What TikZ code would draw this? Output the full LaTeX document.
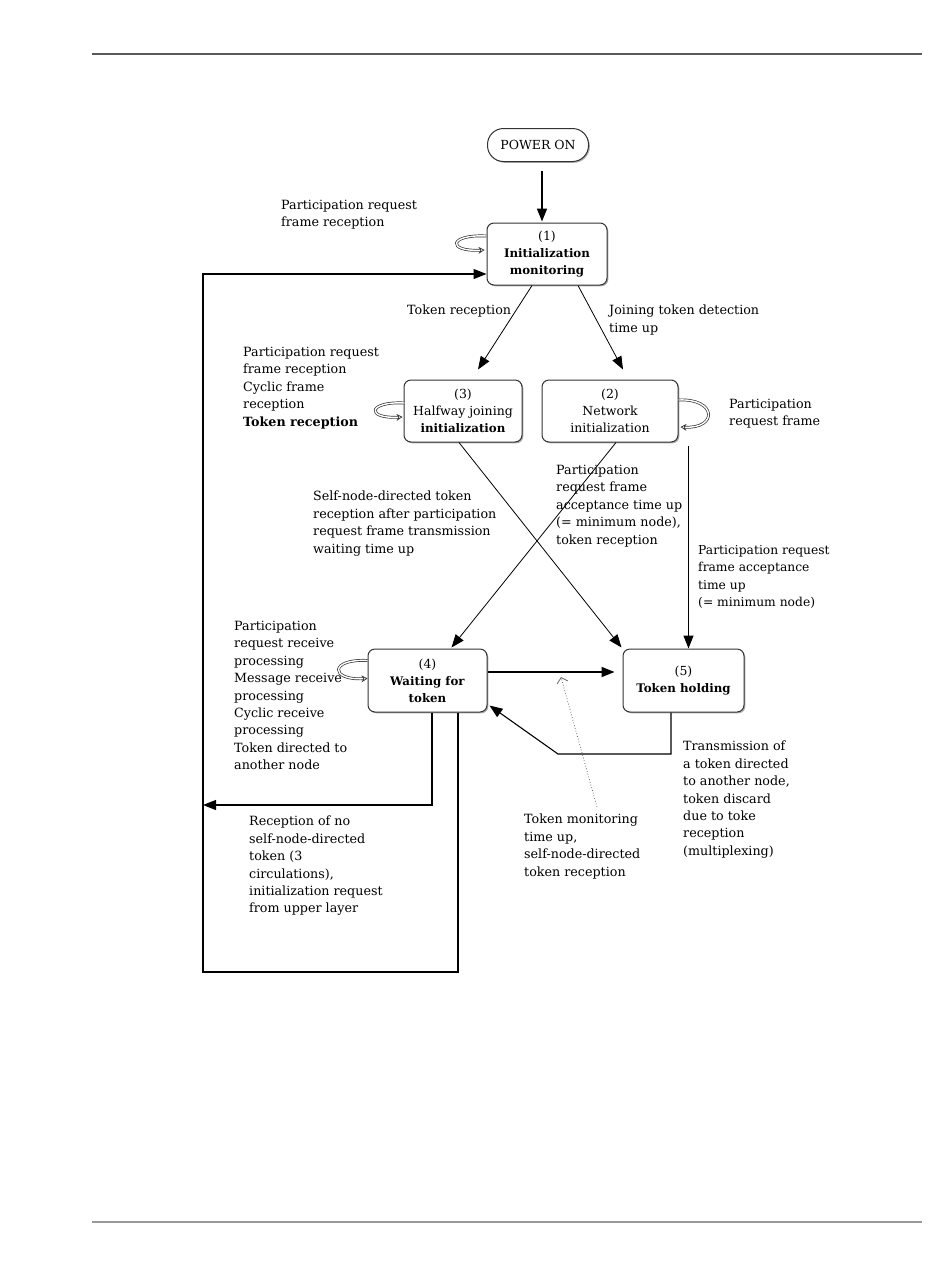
\documentclass[tikz,border=0pt]{standalone}
\usepackage{fontspec}
\setmainfont{DejaVu Serif}
\usetikzlibrary{arrows.meta,shadows}
\newcommand{\bx}[1]{{\fontsize{11.8}{17}\selectfont\textbf{#1}}}
\begin{document}
\begin{tikzpicture}[x=1pt,y=-1pt,
  state/.style={draw=black!80, line width=1pt, rounded corners=7pt, fill=white,
    minimum width=120pt, minimum height=62pt, align=center, inner sep=0pt,
    font=\fontsize{12.5}{17}\selectfont,
    drop shadow={shadow xshift=1.3pt, shadow yshift=-1.3pt, fill=black!55, opacity=0.6}},
  lbl/.style={anchor=north west, align=left, inner sep=0pt, font=\fontsize{12.7}{17.4}\selectfont},
  conn/.style={line width=1.1pt, -{Triangle[length=13pt,width=10pt]}},
  thinconn/.style={line width=0.8pt, -{Triangle[length=13pt,width=10pt]}},
  loopy/.style={draw=black!80, line width=0.7pt, double=white, double distance=1.4pt, -{Stealth[open,length=6pt,width=7pt]}},
  rule/.style={line width=1.6pt}]
\useasboundingbox (0,0) rectangle (950,1267);
\draw[rule, draw=black!65] (92,54) -- (922,54);
\draw[rule, draw=black!40, line width=2.2pt] (92,1222) -- (922,1222);

% states
\node[state, minimum width=101pt, minimum height=33pt, rounded corners=16pt] (pw) at (538,145) {POWER ON};
\node[state] (n1) at (547,254) {(1)\\\bx{Initialization}\\\bx{monitoring}};
\node[state, minimum width=118pt] (n3) at (463,411) {(3)\\Halfway joining\\\bx{initialization}};
\node[state, minimum width=136pt] (n2) at (610,411) {(2)\\Network\\initialization};
\node[state, minimum width=119pt, minimum height=63pt] (n4) at (427.5,680.5) {(4)\\\bx{Waiting for}\\\bx{token}};
\node[state, minimum width=121pt, minimum height=63pt] (n5) at (683.5,680.5) {(5)\\\bx{Token holding}};

% labels
\node[lbl] (lpr1) at (281,200) {Participation request\\frame reception};
\node[lbl] (ltr) at (407,305) {Token reception};
\node[lbl] (ljt) at (609,305) {Joining token detection\\time up};
\node[lbl] (l3) at (243,347) {Participation request\\frame reception\\Cyclic frame\\reception\\\textbf{Token reception}};
\node[lbl] (l2) at (729,399) {Participation\\request frame};
\node[lbl] (lself) at (313,491) {Self-node-directed token\\reception after participation\\request frame transmission\\waiting time up};
\node[lbl] (lacc) at (556,465) {Participation\\request frame\\acceptance time up\\(= minimum node),\\token reception};
\node[lbl, font=\fontsize{12.3}{17.4}\selectfont] (lsmall) at (698,545) {Participation request\\frame acceptance\\time up\\(= minimum node)};
\node[lbl] (l4) at (234,621) {Participation\\request receive\\processing\\Message receive\\processing\\Cyclic receive\\processing\\Token directed to\\another node};
\node[lbl] (ltrans) at (683,741) {Transmission of\\a token directed\\to another node,\\token discard\\due to toke\\reception\\(multiplexing)};
\node[lbl] (ltm) at (524,814) {Token monitoring\\time up,\\self-node-directed\\token reception};
\node[lbl] (lrec) at (249,816) {Reception of no\\self-node-directed\\token (3\\circulations),\\initialization request\\from upper layer};

% self loops
\draw[loopy] ([shift={(0,-18)}]n1.west) .. controls +(-38,-2) and +(-38,2) .. ([shift={(-2,-4)}]n1.west);
\draw[loopy] ([shift={(1,-8)}]n3.west) .. controls +(-37,-2) and +(-37,2) .. ([shift={(-1,6)}]n3.west);
\draw[loopy] ([shift={(0,-11)}]n2.east) .. controls +(38,-2) and +(38,2) .. ([shift={(2,16)}]n2.east);
\draw[loopy] ([shift={(0,-20)}]n4.west) .. controls +(-38,-2) and +(-38,2) .. ([shift={(0,-2)}]n4.west);

% transitions
\draw[conn, line width=1.7pt] ([shift={(4,9)}]pw.south) -- ([shift={(-5,-1)}]n1.north);
\draw[thinconn] ([shift={(-15,0)}]n1.south) -- ([shift={(15,-10)}]n3.north);
\draw[thinconn] ([shift={(31,0)}]n1.south) -- ([shift={(13,-10)}]n2.north);
\draw[thinconn] ([shift={(-4,0)}]n3.south) -- ([shift={(-1,-1)}]n5.north west);
\draw[thinconn] ([shift={(6,0)}]n2.south) -- ([shift={(-36,-1)}]n4.north east);
\draw[conn] ([shift={(10,3)}]n2.south east) coordinate (a) -- (a |- n5.north);
\draw[conn, line width=1.7pt] ([shift={(0,-8.5)}]n4.east) -- ([shift={(-8,-8.5)}]n5.west);

\coordinate (rc1) at (671,754);
\coordinate (rc2) at (558,754);
\draw[conn] ([shift={(-12.5,0)}]n5.south) -- (rc1) -- (rc2) -- ([shift={(2,-7)}]n4.south east);

\coordinate (tmend) at (561,677);
\draw[black!60, line width=0.8pt, dotted, -{Straight Barb[length=5pt,width=11pt]}] ([shift={(73,-7)}]ltm.north west) -- (tmend);

\coordinate (lc1) at (432,805);
\coordinate (lc2) at (203,805);
\draw[conn] ([shift={(4.5,0)}]n4.south) -- (lc1) -- (lc2);

\coordinate (bc1) at (458,972);
\coordinate (bc2) at (203,972);
\coordinate (bc3) at (203,274);
\draw[conn] ([shift={(30.5,0)}]n4.south) -- (bc1) -- (bc2) -- (bc3) -- ([shift={(0,20)}]n1.west);
\end{tikzpicture}
\end{document}
